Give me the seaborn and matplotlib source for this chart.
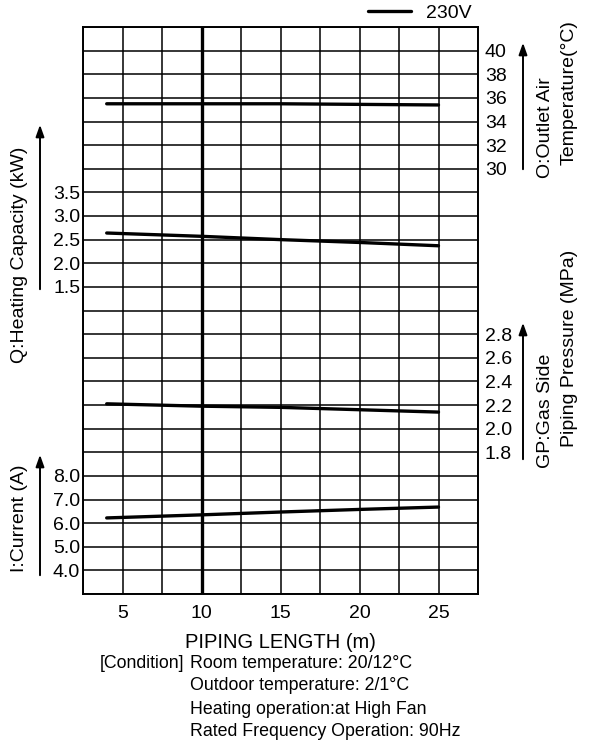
import seaborn as sns
import matplotlib.pyplot as plt

# values
pipe_len = [4, 10, 15, 20, 25]
outlet_temp = [35.5, 35.5, 35.5, 35.45, 35.4]
heat_cap = [2.64, 2.57, 2.50, 2.44, 2.37]
gas_press = [2.21, 2.19, 2.18, 2.16, 2.14]
current = [6.22, 6.35, 6.47, 6.58, 6.68]

x_major = [5, 10, 15, 20, 25]
x_minor = [2.5, 7.5, 12.5, 17.5, 22.5, 27.5]
o_ticks = [30, 32, 34, 36, 38, 40]
q_ticks = [1.5, 2.0, 2.5, 3.0, 3.5]
gp_ticks = [1.8, 2.0, 2.2, 2.4, 2.6, 2.8]
i_ticks = [4.0, 5.0, 6.0, 7.0, 8.0]
i_grid = list(range(3, 28))

W, H = 589, 740


def fpos(x, y):
    # pixel position (from top-left) -> figure fraction
    return (x / W, 1 - y / H)


sns.set_style('white')
plt.rcParams['font.family'] = ['Liberation Sans', 'DejaVu Sans']
plt.rcParams.update({'text.color': 'black', 'axes.labelcolor': 'black',
                     'xtick.color': 'black', 'ytick.color': 'black'})

fig = plt.figure(figsize=(W / 100, H / 100), dpi=100)
ax = fig.add_axes([83 / W, 1 - 594 / H, 395 / W, 567 / H])

# main axis = current (I), also carries the grid
ax.set_xlim(2.5, 27.5)
ax.set_ylim(3, 27)
ax.set_xticks(x_major)
ax.set_xticks(x_minor, minor=True)
ax.set_yticks(i_ticks)
ax.set_yticks(i_grid, minor=True)
ax.set_yticklabels([f'{v:.1f}' for v in i_ticks])
ax.grid(True, which='both', color='black', lw=1.1)
ax.axvline(10, color='black', lw=2.4)
ax.tick_params(which='both', length=0, labelsize=14)
ax.tick_params(axis='y', pad=2)
ax.tick_params(axis='x', pad=8)
for s in ax.spines.values():
    s.set_color('black')
    s.set_linewidth(1.4)

sns.lineplot(x=pipe_len, y=current, ax=ax, color='black', lw=2.4, label='230V')

# heating capacity (left side)
ax_q = ax.twinx()
ax_q.set_ylim(-5, 7)
sns.lineplot(x=pipe_len, y=heat_cap, ax=ax_q, color='black', lw=2.4, legend=False)
ax_q.yaxis.tick_left()
ax_q.set_yticks(q_ticks)
ax_q.set_yticklabels([f'{v:.1f}' for v in q_ticks])

# outlet air temperature (right side)
ax_o = ax.twinx()
ax_o.set_ylim(-6, 42)
sns.lineplot(x=pipe_len, y=outlet_temp, ax=ax_o, color='black', lw=2.4, legend=False)
ax_o.set_yticks(o_ticks)
ax_o.set_yticklabels([str(v) for v in o_ticks])

# gas side piping pressure (right side)
ax_gp = ax.twinx()
ax_gp.set_ylim(0.6, 5.4)
sns.lineplot(x=pipe_len, y=gas_press, ax=ax_gp, color='black', lw=2.4, legend=False)
ax_gp.set_yticks(gp_ticks)
ax_gp.set_yticklabels([f'{v:.1f}' for v in gp_ticks])

for a in (ax_q, ax_o, ax_gp):
    a.set_ylabel('')
    a.grid(False)
    a.tick_params(length=0, labelsize=14, pad=5)
    for s in a.spines.values():
        s.set_visible(False)
ax_q.tick_params(pad=2)

ax.set_xlabel('PIPING LENGTH (m)', fontsize=14.5, labelpad=8)

ax.legend(loc='lower right', bbox_to_anchor=(0.99, 1.005), frameon=False,
          fontsize=14, handlelength=2.2, borderaxespad=0, borderpad=0.1)

# axis titles with arrows
arrow = dict(arrowstyle='-|>,head_length=0.7,head_width=0.25', lw=1.4, color='black')
fig.text(*fpos(20, 255), 'Q:Heating Capacity (kW)', rotation=90,
         ha='center', va='center', fontsize=14)
ax.annotate('', xy=fpos(40, 122), xytext=fpos(40, 292),
            xycoords='figure fraction', textcoords='figure fraction', arrowprops=arrow)
fig.text(*fpos(20, 518), 'I:Current (A)', rotation=90,
         ha='center', va='center', fontsize=14)
ax.annotate('', xy=fpos(40, 452), xytext=fpos(40, 578),
            xycoords='figure fraction', textcoords='figure fraction', arrowprops=arrow)

fig.text(*fpos(546, 178), 'O:Outlet Air', rotation=90, rotation_mode='anchor',
         ha='left', va='center', fontsize=14)
fig.text(*fpos(569, 165), 'Temperature(°C)', rotation=90, rotation_mode='anchor',
         ha='left', va='center', fontsize=14)
ax.annotate('', xy=fpos(523, 40), xytext=fpos(523, 172),
            xycoords='figure fraction', textcoords='figure fraction', arrowprops=arrow)

fig.text(*fpos(546, 468), 'GP:Gas Side', rotation=90, rotation_mode='anchor',
         ha='left', va='center', fontsize=14)
fig.text(*fpos(569, 447), 'Piping Pressure (MPa)', rotation=90, rotation_mode='anchor',
         ha='left', va='center', fontsize=14)
ax.annotate('', xy=fpos(523, 320), xytext=fpos(523, 462),
            xycoords='figure fraction', textcoords='figure fraction', arrowprops=arrow)

# test conditions
cond = ['Room temperature: 20/12°C', 'Outdoor temperature: 2/1°C',
        'Heating operation:at High Fan', 'Rated Frequency Operation: 90Hz']
fig.text(*fpos(100, 663), '[Condition]', ha='left', va='center', fontsize=12.8)
for k, line in enumerate(cond):
    fig.text(*fpos(190, 663 + 23 * k), line, ha='left', va='center', fontsize=12.8)

fig.savefig('out.png', dpi=100)
